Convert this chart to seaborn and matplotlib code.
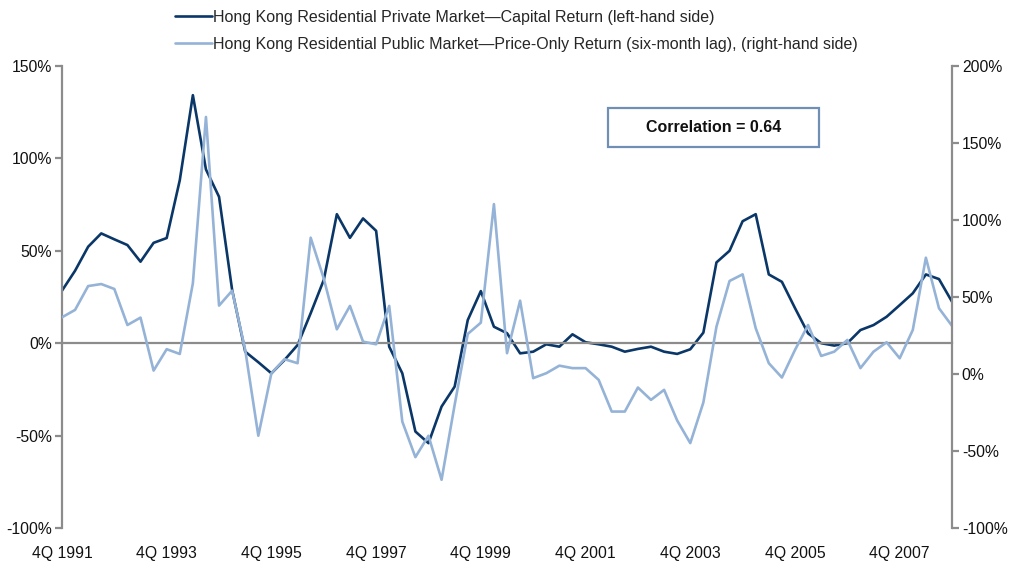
import matplotlib
matplotlib.use("Agg")
import matplotlib.pyplot as plt
from matplotlib.patches import Rectangle
from matplotlib.ticker import FuncFormatter
import seaborn as sns
import pandas as pd

# ---- data -------------------------------------------------------------
quarters = [f"{q}Q {y}" for y in range(1991, 2009) for q in (1, 2, 3, 4)][3:]  # 4Q 1991 .. 4Q 2008

private_capital_return = [
    28.4, 39.2, 52.2, 59.4, 56.2, 53.1, 44.1, 54.3, 56.9, 88.2,
    134.2, 94.0, 79.2, 28.8, -4.6, -10.3, -16.3, -9.1, -1.0, 16.2,
    34.2, 69.8, 57.0, 67.5, 60.8, -1.9, -16.3, -47.8, -54.1, -34.3,
    -23.5, 12.5, 28.2, 8.9, 5.4, -5.5, -4.6, -0.6, -1.9, 4.8,
    0.5, -0.6, -1.9, -4.6, -3.1, -1.9, -4.6, -5.8, -3.3, 5.7,
    43.7, 50.0, 66.0, 69.8, 37.2, 33.2, 19.0, 5.3, 0.0, -1.3,
    0.0, 7.1, 9.8, 14.3, 20.6, 27.0, 37.2, 34.7, 22.4,
]

public_price_return = [
    36.8, 41.6, 57.1, 58.4, 55.2, 31.8, 36.6, 2.2, 16.1, 13.0,
    58.9, 166.9, 44.4, 54.1, 15.6, -40.1, 0.5, 9.6, 7.0, 88.5,
    62.0, 29.0, 44.2, 21.0, 19.3, 44.2, -30.9, -54.0, -40.1, -68.7,
    -20.0, 26.0, 33.3, 110.3, 13.5, 47.6, -2.7, 0.5, 5.4, 3.8,
    3.8, -3.8, -24.4, -24.4, -8.8, -16.8, -10.3, -30.2, -44.9, -18.5,
    30.7, 60.4, 64.7, 29.7, 7.0, -2.3, 15.6, 31.8, 11.7, 14.5,
    22.1, 3.8, 14.5, 20.6, 10.2, 28.6, 75.5, 42.7, 31.2,
]

xtick_labels = ["4Q 1991", "4Q 1993", "4Q 1995", "4Q 1997", "4Q 1999",
                "4Q 2001", "4Q 2003", "4Q 2005", "4Q 2007"]
left_ticks = [-100, -50, 0, 50, 100, 150]
right_ticks = [-100, -50, 0, 50, 100, 150, 200]

label_private = "Hong Kong Residential Private Market\u2014Capital Return (left-hand side)"
label_public = "Hong Kong Residential Public Market\u2014Price-Only Return (six-month lag), (right-hand side)"
corr_text = "Correlation = 0.64"

# ---- style --------------------------------------------------------------
sns.set_style("white")
plt.rcParams["font.family"] = ["Liberation Sans", "DejaVu Sans"]

DARK = "#0A3768"
LIGHT = "#95B3D7"
GREY = "#8C8C8C"
BOX = "#6F8FB5"

df = pd.DataFrame({
    "quarter": quarters,
    "pos": range(len(quarters)),
    "private": private_capital_return,
    "public": public_price_return,
})

fig = plt.figure(figsize=(10.11, 5.63), dpi=100)
ax = fig.add_axes([0.0613, 0.0622, 0.8804, 0.8206])
axr = ax.twinx()

sns.lineplot(data=df, x="pos", y="private", ax=ax, color=DARK, linewidth=1.9,
             label=label_private, legend=False)
sns.lineplot(data=df, x="pos", y="public", ax=axr, color=LIGHT, linewidth=1.9,
             label=label_public, legend=False)

ax.set_xlim(0, len(quarters) - 1)
ax.set_ylim(-100, 150)
axr.set_ylim(-100, 200)
ax.set_xlabel("")
ax.set_ylabel("")
axr.set_xlabel("")
axr.set_ylabel("")

pct = FuncFormatter(lambda v, p: f"{v:.0f}%")
ax.set_yticks(left_ticks)
ax.yaxis.set_major_formatter(pct)
axr.set_yticks(right_ticks)
axr.yaxis.set_major_formatter(pct)

# spines
for s in ["top", "right"]:
    ax.spines[s].set_visible(False)
for s in ["top", "left", "bottom"]:
    axr.spines[s].set_visible(False)
ax.spines["left"].set_color(GREY)
ax.spines["left"].set_linewidth(1.6)
axr.spines["right"].set_color(GREY)
axr.spines["right"].set_linewidth(1.6)
ax.spines["bottom"].set_position(("data", 0))
ax.spines["bottom"].set_color(GREY)
ax.spines["bottom"].set_linewidth(1.6)

ax.tick_params(axis="y", direction="out", length=5, width=1.6, color=GREY,
               labelsize=11.3, pad=2, labelcolor="#111111")
axr.tick_params(axis="y", direction="out", length=5, width=1.6, color=GREY,
                labelsize=11.3, pad=2, labelcolor="#111111")

tick_pos = [quarters.index(t) for t in xtick_labels]
ax.set_xticks(tick_pos)
ax.tick_params(axis="x", direction="out", length=4, width=1.6, color=GREY,
               labelbottom=False)

sec = ax.secondary_xaxis("bottom")
sec.set_xticks(tick_pos)
sec.set_xticklabels(xtick_labels)
sec.spines["bottom"].set_visible(False)
sec.tick_params(axis="x", length=0, pad=13, labelsize=11.3, labelcolor="#111111")

# correlation box
ax.add_patch(Rectangle((0.6135, 0.8247), 0.2371, 0.0844, transform=ax.transAxes,
                       facecolor="white", edgecolor=BOX, linewidth=1.6,
                       zorder=5, clip_on=False))
ax.text(0.732, 0.867, corr_text, transform=ax.transAxes, ha="center", va="center",
        fontsize=11.5, fontweight="bold", color="#111111", zorder=6)

# legend
handles = [ax.lines[0], axr.lines[0]]
fig.legend(handles, [label_private, label_public], loc="upper left",
           bbox_to_anchor=(175 / 1011, 1 - 10 / 563), frameon=False,
           fontsize=11.5, handlelength=2.3, handletextpad=0.1,
           labelspacing=0.72, borderpad=0, borderaxespad=0)

fig.savefig("out.png", dpi=100)
